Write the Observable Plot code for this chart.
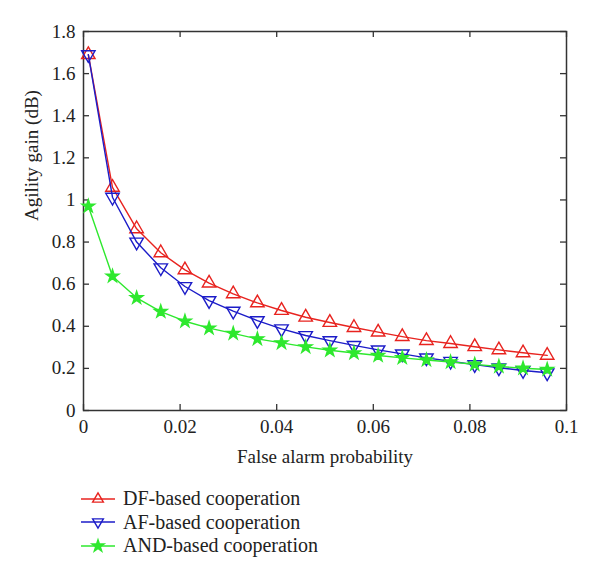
<!DOCTYPE html>
<html>
<head>
<meta charset="utf-8">
<script src="https://cdn.jsdelivr.net/npm/d3@7"></script>
<script src="https://cdn.jsdelivr.net/npm/@observablehq/plot@0.6"></script>
<style>
  body { margin: 0; background: #fff; font-family: "Liberation Serif", "DejaVu Serif", serif; }
  #wrap { position: relative; width: 600px; height: 581px; }
  #legend { position: absolute; left: 80px; top: 487px; font-size: 20px; color: #222; }
  #legend .row { display: flex; align-items: center; height: 23.5px; }
  #legend svg { margin-right: 7px; }
</style>
</head>
<body>
<div id="wrap"><div id="chart"></div><div id="legend"></div></div>
<script>
const falseAlarm = [0.001, 0.006, 0.011, 0.016, 0.021, 0.026, 0.031, 0.036, 0.041, 0.046,
                    0.051, 0.056, 0.061, 0.066, 0.071, 0.076, 0.081, 0.086, 0.091, 0.096];
const dfGain  = [1.69, 1.06, 0.863, 0.749, 0.668, 0.605, 0.554, 0.511, 0.475, 0.443,
                 0.418, 0.394, 0.372, 0.351, 0.332, 0.318, 0.303, 0.288, 0.274, 0.262];
const afGain  = [1.69, 1.013, 0.80, 0.678, 0.589, 0.522, 0.472, 0.427, 0.388, 0.356,
                 0.332, 0.309, 0.288, 0.269, 0.250, 0.234, 0.218, 0.203, 0.190, 0.179];
const andGain = [0.97, 0.638, 0.535, 0.470, 0.424, 0.391, 0.366, 0.340, 0.321, 0.302,
                 0.286, 0.273, 0.261, 0.250, 0.240, 0.230, 0.219, 0.209, 0.201, 0.195];
const seriesNames = ["DF-based cooperation", "AF-based cooperation", "AND-based cooperation"];
const seriesColors = ["#e8231f", "#1c1cc8", "#2ee82e"];
const xTicks = [0, 0.02, 0.04, 0.06, 0.08, 0.1];
const yTicks = [0, 0.2, 0.4, 0.6, 0.8, 1, 1.2, 1.4, 1.6, 1.8];

const gains = [dfGain, afGain, andGain];
const data = [];
gains.forEach((arr, s) => arr.forEach((v, i) => data.push({series: seriesNames[s], x: falseAlarm[i], y: v})));
const sym = {
  [seriesNames[0]]: {symbol: "triangle", rotate: 0, fill: "none", r: 5},
  [seriesNames[1]]: {symbol: "triangle", rotate: 180, fill: "none", r: 5},
  [seriesNames[2]]: {symbol: "star", rotate: 0, fill: seriesColors[2], r: 4}
};

const W = 600, H = 475, mL = 83, mR = 34, mT = 31, mB = 65;
const pw = W - mL - mR, ph = H - mT - mB;
const tk = 6;
const fmt = d => String(d);

const marks = [
  Plot.frame({stroke: "#333", strokeWidth: 1.5}),
  Plot.tickY(yTicks, {y: d => d, insetRight: pw - tk, stroke: "#333", strokeWidth: 1.3}),
  Plot.tickY(yTicks, {y: d => d, insetLeft: pw - tk, stroke: "#333", strokeWidth: 1.3}),
  Plot.tickX(xTicks, {x: d => d, insetTop: ph - tk, stroke: "#333", strokeWidth: 1.3}),
  Plot.tickX(xTicks, {x: d => d, insetBottom: ph - tk, stroke: "#333", strokeWidth: 1.3}),
  Plot.axisX(xTicks, {tickSize: 0, tickPadding: 9, tickFormat: fmt, label: null}),
  Plot.axisY(yTicks, {tickSize: 0, tickPadding: 8, tickFormat: fmt, label: null}),
  Plot.text(["False alarm probability"], {frameAnchor: "bottom", dy: 52, fontSize: 19, text: d => d}),
  Plot.text(["Agility gain (dB)"], {frameAnchor: "left", dx: -52, rotate: -90, fontSize: 19, text: d => d})
];
seriesNames.forEach((name, s) => {
  const d = data.filter(r => r.series === name);
  marks.push(Plot.line(d, {x: "x", y: "y", stroke: seriesColors[s], strokeWidth: 1.4}));
  marks.push(Plot.dot(d, {x: "x", y: "y", symbol: sym[name].symbol, rotate: sym[name].rotate,
    r: sym[name].r, stroke: seriesColors[s], fill: sym[name].fill, strokeWidth: 1.4}));
});

const chart = Plot.plot({
  width: W, height: H, marginLeft: mL, marginRight: mR, marginTop: mT, marginBottom: mB,
  style: {fontFamily: "'Liberation Serif', 'DejaVu Serif', serif", fontSize: "19px", color: "#222", background: "#fff"},
  x: {domain: [0, 0.1]},
  y: {domain: [0, 1.8]},
  marks
});
document.getElementById("chart").appendChild(chart);

// Legend
const leg = d3.select("#legend");
seriesNames.forEach((name, s) => {
  const row = leg.append("div").attr("class", "row");
  const sv = row.append("svg").attr("width", 36).attr("height", 20);
  sv.append("line").attr("x1", 1).attr("x2", 35).attr("y1", 10).attr("y2", 10)
    .attr("stroke", seriesColors[s]).attr("stroke-width", 1.4);
  const symType = s === 2 ? d3.symbolStar : d3.symbolTriangle;
  const size = s === 2 ? 45 : 50;
  sv.append("path").attr("d", d3.symbol(symType, size)())
    .attr("transform", `translate(18,10) rotate(${sym[name].rotate})`)
    .attr("fill", sym[name].fill).attr("stroke", seriesColors[s]).attr("stroke-width", 1.4);
  row.append("span").text(name);
});
</script>
</body>
</html>
